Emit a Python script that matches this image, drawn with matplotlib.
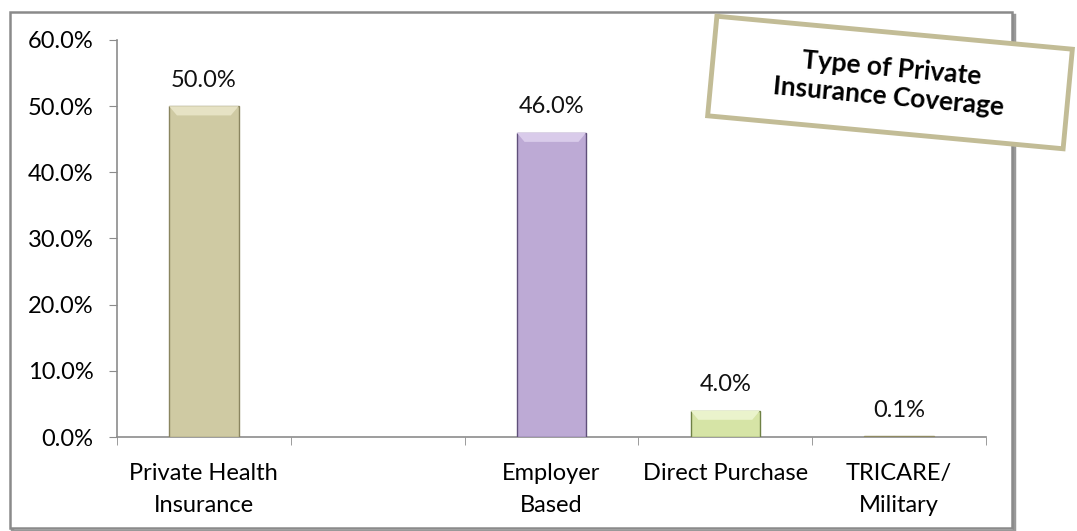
import numpy as np
import matplotlib.pyplot as plt
from matplotlib.patches import Rectangle, Polygon

plt.rcParams['font.family'] = ['Lato', 'DejaVu Sans']

categories = ['Private Health\nInsurance', '', 'Employer\nBased', 'Direct Purchase', 'TRICARE/\nMilitary']
values = [50.0, np.nan, 46.0, 4.0, 0.1]
bar_colors = ['#cfcaa3', '#ffffff', '#bdaad5', '#d6e4a6', '#c9c69c']
bevel_colors = ['#e6e2c4', '#ffffff', '#d9cbea', '#eaf3cc', '#c9c69c']
edge_colors = ['#8a8560', '#ffffff', '#5f4f7a', '#6f8145', '#8f8a62']
yticks = [0, 10, 20, 30, 40, 50, 60]

fig = plt.figure(figsize=(10.77, 5.31), dpi=100)

# outer chart frame with a little shadow
fig.patches.append(Rectangle((0.0115, 0.0), 0.93, 0.972, transform=fig.transFigure,
                             facecolor='none', edgecolor='#555555', lw=2.5, alpha=0.6, zorder=-5))
fig.patches.append(Rectangle((0.009, 0.006), 0.931, 0.972, transform=fig.transFigure,
                             facecolor='white', edgecolor='#8a8a8a', lw=1.8, zorder=-4))

ax = fig.add_axes([0.1086, 0.177, 0.8069, 0.7477])
ax.set_zorder(1)
x = np.arange(len(categories))
bw = 0.4
bx, by = 0.045, 1.4  # bevel size in data units (about 8 px)
for i, v in enumerate(values):
    if np.isnan(v):
        continue
    ax.bar(x[i], v, width=bw, color=bar_colors[i], edgecolor=edge_colors[i], linewidth=1.0, zorder=3)
    if v > 2 * by:
        l, r = x[i] - bw / 2, x[i] + bw / 2
        ax.add_patch(Polygon([(l, v), (r, v), (r - bx, v - by), (l + bx, v - by)],
                             closed=True, facecolor=bevel_colors[i], edgecolor='none', zorder=4))
    ax.annotate('{:.1f}%'.format(v), (x[i], v), xytext=(0, 11), textcoords='offset points',
                ha='center', va='bottom', fontsize=17, color='#111111')

ax.set_xlim(-0.5, len(categories) - 0.5)
ax.set_ylim(0, 60)
ax.set_yticks(yticks)
ax.set_yticklabels(['{:.1f}%'.format(t) for t in yticks], fontsize=17)
ax.set_xticks(x)
ax.set_xticklabels(categories, fontsize=17, linespacing=1.65)
ax.set_xticks(np.arange(len(categories) + 1) - 0.5, minor=True)
ax.tick_params(axis='x', which='major', length=0, pad=19)
ax.tick_params(axis='x', which='minor', length=6, color='#8c8c8c', direction='out')
ax.tick_params(axis='y', length=6, color='#8c8c8c', direction='out', pad=11)
for s in ['top', 'right']:
    ax.spines[s].set_visible(False)
for s in ['left', 'bottom']:
    ax.spines[s].set_color('#8c8c8c')
    ax.spines[s].set_linewidth(1.2)
ax.patch.set_alpha(0)

# tilted title box
box_w, box_h = 3.57, 1.0
cx, cy = 8.90, 4.485
box = Rectangle((cx - box_w / 2, cy - box_h / 2), box_w, box_h, angle=-5.3, rotation_point='center',
                transform=fig.dpi_scale_trans, facecolor='white', edgecolor='#c2bc96', linewidth=3.5,
                zorder=5)
fig.patches.append(box)
fig.text(cx / 10.77, cy / 5.31, 'Type of Private\nInsurance Coverage', rotation=-5.3,
         rotation_mode='anchor', ha='center', va='center', fontsize=19, fontweight='bold',
         linespacing=1.2, zorder=6)

fig.savefig('out.png', dpi=100)
